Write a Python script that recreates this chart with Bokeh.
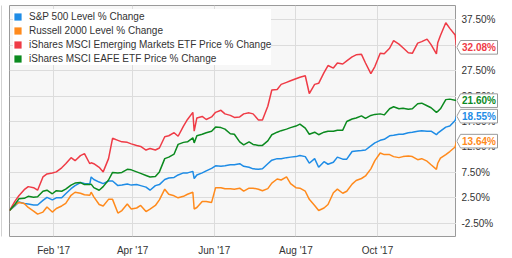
import pandas as pd
from bokeh.plotting import figure
from bokeh.layouts import row
from bokeh.core.properties import value
from bokeh.models import (Range1d, FixedTicker, Legend, LegendItem, Grid,
                          ColumnDataSource, DatetimeTickFormatter)
from bokeh.embed import file_html
from bokeh.resources import INLINE

dates = [
    "2016-12-30", "2017-01-03", "2017-01-06", "2017-01-10", "2017-01-13", "2017-01-17", "2017-01-20", "2017-01-24", "2017-01-27", "2017-01-31",
    "2017-02-03", "2017-02-07", "2017-02-10", "2017-02-14", "2017-02-17", "2017-02-21", "2017-02-24", "2017-02-28", "2017-03-01", "2017-03-03",
    "2017-03-07", "2017-03-10", "2017-03-14", "2017-03-17", "2017-03-21", "2017-03-24", "2017-03-28", "2017-03-31", "2017-04-04", "2017-04-07",
    "2017-04-11", "2017-04-14", "2017-04-18", "2017-04-21", "2017-04-25", "2017-04-28", "2017-05-02", "2017-05-05", "2017-05-09", "2017-05-12",
    "2017-05-16", "2017-05-17", "2017-05-19", "2017-05-23", "2017-05-26", "2017-05-30", "2017-06-02", "2017-06-06", "2017-06-09", "2017-06-13",
    "2017-06-16", "2017-06-20", "2017-06-23", "2017-06-27", "2017-06-30", "2017-07-04", "2017-07-07", "2017-07-11", "2017-07-14", "2017-07-18",
    "2017-07-21", "2017-07-25", "2017-07-28", "2017-08-01", "2017-08-04", "2017-08-08", "2017-08-11", "2017-08-15", "2017-08-18", "2017-08-22",
    "2017-08-25", "2017-08-29", "2017-09-01", "2017-09-05", "2017-09-08", "2017-09-12", "2017-09-15", "2017-09-19", "2017-09-22", "2017-09-26",
    "2017-09-29", "2017-10-03", "2017-10-06", "2017-10-10", "2017-10-13", "2017-10-17", "2017-10-20", "2017-10-24", "2017-10-27", "2017-10-31",
    "2017-11-03", "2017-11-07", "2017-11-10", "2017-11-14", "2017-11-15", "2017-11-17", "2017-11-21", "2017-11-24", "2017-11-28", "2017-11-29",
]

spx = [
    0, 0.9, 1.7, 1.4, 1.3, 1.1, 1.1, 2.0, 2.6, 2.1,
    2.5, 2.5, 3.3, 4.3, 4.9, 5.5, 5.3, 5.2, 6.6, 6.1,
    5.6, 5.3, 5.8, 5.8, 4.9, 5.0, 5.2, 5.0, 5.1, 4.9,
    4.6, 4.0, 4.9, 5.1, 6.1, 6.4, 6.5, 7.0, 7.4, 7.4,
    7.7, 6.3, 7.0, 7.4, 7.8, 8.3, 8.8, 8.7, 8.8, 9.0,
    9.0, 9.2, 8.7, 8.5, 8.2, 8.1, 8.2, 9.2, 9.9, 10.2,
    10.2, 10.4, 10.5, 10.6, 10.8, 10.6, 9.3, 10.2, 8.5, 9.6,
    9.1, 9.5, 10.5, 10.1, 10.1, 11.6, 11.7, 11.8, 11.9, 12.7,
    13.3, 13.8, 14.0, 14.7, 14.8, 15.0, 15.0, 15.3, 15.4, 15.6,
    15.7, 15.6, 15.6, 14.9, 15.2, 15.6, 16.4, 16.6, 17.7, 18.55,
]

iwm = [
    0, 1.1, 1.6, 1.4, 0.6, -0.1, -0.7, -0.3, 0.7, -0.3,
    0.4, 0.9, 1.4, 3.0, 3.6, 3.4, 3.1, 3.0, 3.6, 2.7,
    1.2, 0.9, 2.2, 2.2, -0.5, 0.0, 1.3, 0.3, 0.5, 1.0,
    -0.2, 0.3, 1.0, 2.1, 4.2, 3.2, 2.9, 2.5, 2.8, 3.2,
    3.6, 0.3, 0.6, 1.8, 1.8, 1.6, 4.5, 4.5, 4.3, 4.3,
    4.2, 4.4, 3.8, 4.4, 4.4, 4.2, 3.9, 4.3, 5.4, 6.2,
    6.0, 6.6, 5.3, 4.5, 4.4, 3.8, 2.2, 1.0, 0.0, 0.5,
    1.2, 3.5, 4.2, 3.4, 3.8, 5.2, 5.9, 6.3, 6.8, 8.2,
    9.8, 11.3, 11.0, 11.0, 10.6, 10.4, 10.6, 10.7, 10.6, 10.0,
    10.2, 9.7, 9.0, 8.1, 9.3, 10.3, 11.0, 11.6, 12.5, 13.64,
]

eem = [
    0, 1.8, 2.9, 4.1, 4.7, 4.5, 4.0, 6.6, 7.2, 7.4,
    7.6, 8.4, 9.2, 10.4, 9.8, 10.8, 11.2, 9.2, 9.4, 9.2,
    8.5, 7.6, 10.2, 14.2, 13.8, 13.5, 13.4, 13.1, 12.8, 12.6,
    11.9, 12.2, 11.9, 12.3, 14.5, 14.7, 15.3, 14.6, 16.6, 17.9,
    19.3, 15.6, 18.2, 18.5, 17.9, 18.4, 19.3, 19.7, 19.0, 18.7,
    18.3, 18.4, 19.0, 19.2, 19.0, 17.8, 17.8, 20.5, 23.7, 23.8,
    24.8, 25.2, 25.5, 25.9, 26.2, 26.5, 23.0, 24.8, 25.0, 27.1,
    28.5, 28.0, 29.0, 28.8, 29.4, 30.2, 30.6, 30.7, 29.0, 26.9,
    28.3, 30.9, 30.8, 31.9, 33.4, 32.7, 32.0, 31.0, 30.9, 32.9,
    33.2, 33.7, 32.6, 30.8, 33.0, 34.4, 36.9, 35.8, 34.5, 32.08,
]

efa = [
    0, 1.2, 2.3, 2.4, 2.8, 2.6, 2.7, 3.8, 4.0, 3.3,
    3.9, 3.8, 4.2, 5.0, 5.4, 5.5, 5.1, 5.1, 5.2, 4.5,
    4.0, 4.7, 6.0, 7.5, 7.4, 7.5, 8.1, 8.0, 7.6, 7.3,
    6.9, 6.6, 6.7, 7.6, 10.2, 10.5, 11.1, 13.0, 13.4, 13.5,
    14.3, 13.3, 14.7, 15.0, 15.3, 15.6, 16.4, 16.3, 16.0, 15.1,
    15.0, 13.5, 12.9, 13.5, 13.0, 12.8, 12.8, 13.7, 14.9, 15.4,
    15.7, 16.0, 16.3, 16.6, 17.0, 16.2, 15.0, 15.4, 14.9, 15.4,
    15.6, 15.6, 15.8, 15.8, 17.5, 18.0, 18.2, 18.6, 18.1, 18.7,
    18.9, 19.0, 18.8, 20.0, 20.4, 20.0, 20.1, 19.9, 20.0, 21.0,
    21.1, 20.6, 20.2, 19.3, 19.5, 20.0, 21.8, 21.9, 21.7, 21.60,
]

names = [
    "S&P 500 Level % Change",
    "Russell 2000 Level % Change",
    "iShares MSCI Emerging Markets ETF Price % Change",
    "iShares MSCI EAFE ETF Price % Change",
]
colors = ["#1e8ce6", "#ff8a1c", "#ef3b46", "#0b8a1f"]

y_ticks = [-2.5, 2.5, 7.5, 12.5, 17.5, 22.5, 27.5, 32.5, 37.5]
y_tick_labels = ["-2.50%", "2.50%", "7.50%", "12.50%", "17.50%", "22.50%", "27.50%", "32.50%", "37.50%"]
x_tick_dates = ["2017-02-01", "2017-04-01", "2017-06-01", "2017-08-01", "2017-10-01"]
x_tick_labels = ["Feb '17", "Apr '17", "Jun '17", "Aug '17", "Oct '17"]

FONT = "Liberation Sans"
TXT = "#333333"
GRID = "#dcdcdc"

x = pd.to_datetime(dates)
series = [spx, iwm, eem, efa]
yr = Range1d(-5.1, 40.3)

# ---------- thin container edge on the far left ----------
edge = figure(width=2, height=258, x_axis_type=None, y_axis_type=None,
              output_backend="svg", toolbar_location=None,
              min_border_left=1, min_border_right=0, min_border_top=0, min_border_bottom=0)
edge.grid.visible = False
edge.outline_line_color = None
edge.background_fill_color = "#a6a6a6"
edge.border_fill_color = "white"

# ---------- main chart ----------
p = figure(width=454, height=258, x_axis_type="datetime", y_axis_location=None,
           output_backend="svg", toolbar_location=None,
           min_border_left=7, min_border_right=0, min_border_top=5, min_border_bottom=16,
           x_range=Range1d(pd.Timestamp("2016-12-30"), pd.Timestamp("2017-11-29")),
           y_range=yr)

p.background_fill_color = "#f7f7f7"
p.border_fill_color = "white"
p.outline_line_color = "#9a9a9a"
p.outline_line_width = 1

tick_ms = [pd.Timestamp(d).value / 1e6 for d in x_tick_dates]
xt = FixedTicker(ticks=tick_ms)
xa = p.xaxis[0]
xa.ticker = xt
xa.formatter = DatetimeTickFormatter(months="%b '%y")
xa.major_label_overrides = {t: l for t, l in zip(tick_ms, x_tick_labels)}
xa.axis_line_color = None
xa.major_tick_line_color = None
xa.minor_tick_line_color = None
xa.major_label_standoff = 2
xa.major_label_text_font = FONT
xa.major_label_text_font_size = "10px"
xa.major_label_text_color = TXT

yt = FixedTicker(ticks=y_ticks)
p.xgrid.ticker = xt
p.xgrid.grid_line_color = GRID
p.ygrid.visible = False
p.add_layout(Grid(dimension=1, ticker=yt, grid_line_color=GRID))

items = []
for name, vals, c in zip(names, series, colors):
    src = ColumnDataSource(dict(x=x, y=vals))
    p.line("x", "y", source=src, line_color=c, line_width=1.5)
    # zero-size swatch used only for the legend
    sw = p.quad(left=[x[0]], right=[x[0]], top=[vals[0]], bottom=[vals[0]],
                fill_color=c, line_color=None)
    items.append(LegendItem(label=name, renderers=[sw]))

legend = Legend(items=items, location="top_left", margin=4, padding=4, spacing=0,
                label_height=14, glyph_height=9, glyph_width=9, label_standoff=7,
                label_text_font=FONT, label_text_font_size="10px", label_text_color=TXT,
                background_fill_color="white", background_fill_alpha=1.0,
                border_line_color=None)
p.add_layout(legend)

# ---------- right-hand value axis with end-value flags ----------
q = figure(width=56, height=258, x_range=Range1d(0, 56), y_range=yr,
           x_axis_type=None, y_axis_type=None, output_backend="svg", toolbar_location=None,
           min_border_left=0, min_border_right=0, min_border_top=5, min_border_bottom=16)
q.grid.visible = False
q.outline_line_color = None
q.background_fill_color = "white"
q.border_fill_color = "white"

q.text(x=[5] * len(y_ticks), y=y_ticks, text=y_tick_labels,
       text_font=value(FONT), text_font_size=value("10px"), text_color=TXT,
       text_align="left", text_baseline="middle")

h = 1.34
last = [s[-1] for s in series]
flag_xs = [[0.3, 4, 41, 41, 4] for _ in last]
flag_ys = [[v, v + h, v + h, v - h, v - h] for v in last]
q.patches(xs=flag_xs, ys=flag_ys, fill_color="white", line_color="#9a9a9a", line_width=1)
q.text(x=[22.5] * len(last), y=last, text=[f"{v:.2f}%" for v in last],
       text_font=value(FONT), text_font_size=value("10px"), text_font_style="bold",
       text_color=colors, text_align="center", text_baseline="middle")

layout = row(edge, p, q, spacing=0)
open("out.html", "w").write(file_html(layout, INLINE))
